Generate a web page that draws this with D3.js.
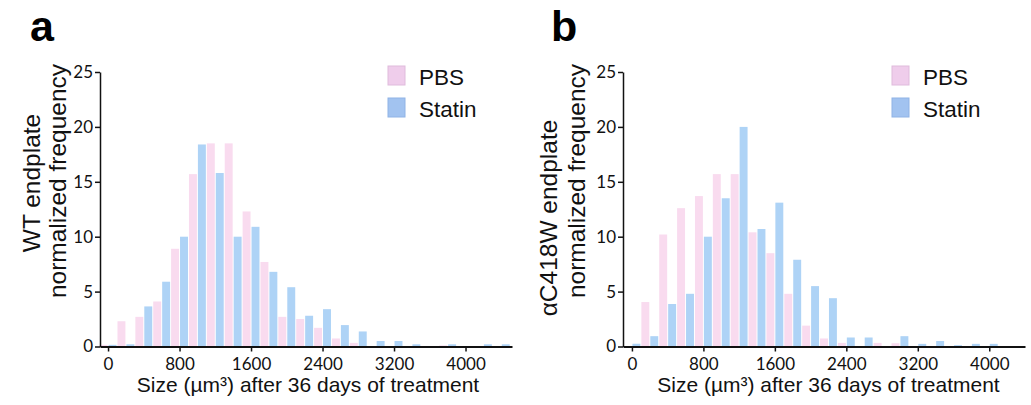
<!DOCTYPE html>
<html lang="en">
  <head>
    <meta charset="utf-8">
    <title>Endplate size histograms</title>
  </head>
  <style>
    body { margin: 0; background: #fff; }
    .axis path, .axis line { stroke: #111; stroke-width: 1.5px; }
    .axis text { font-family: Lato, 'Open Sans', sans-serif; font-size: 17px; fill: #111; }
    .ytitle, .xtitle, .legend text { font-family: 'Liberation Sans', Arial, sans-serif; fill: #111; }
    .panel-letter { font-family: 'Liberation Sans', Arial, sans-serif; font-weight: bold; font-size: 43px; fill: #000; }
  </style>
  <body>
    <div id="svg-area"></div>
    <script src="https://cdn.jsdelivr.net/npm/d3@7"></script>
    <script>
      const svg_width = 1031;
      const svg_height = 405;

      // bin centres (size, um^3), 200 wide
      const wtBins = [0,200,400,600,800,1000,1200,1400,1600,1800,2000,2200,2400,2600,2800,3000,3200,3400,3600,3800,4000,4200,4400];
      const wtPbs = [0.15,2.3,2.7,4.1,8.9,15.7,18.5,18.5,12.3,7.7,2.7,2.5,1.7,0.73,0.33,0,0,0,0,0.1,0,0,0];
      const wtStatin = [0.15,0.2,3.65,5.9,10.0,18.4,15.8,10.0,10.9,6.8,5.4,2.8,3.4,1.95,1.37,0.5,0.5,0.2,0,0.2,0,0.2,0.2];

      const mutBins = [0,200,400,600,800,1000,1200,1400,1600,1800,2000,2200,2400,2600,2800,3000,3200,3400,3600,3800,4000];
      const mutPbs = [0,4.05,10.2,12.6,13.7,15.7,15.7,10.4,8.5,4.8,1.9,0.73,0.33,0,0.33,0.3,0,0,0,0,0];
      const mutStatin = [0.25,0.94,3.87,4.8,10.0,13.5,20.0,10.7,13.1,7.9,5.5,4.4,0.82,0.82,0,0.94,0.24,0.5,0.12,0.24,0.24];

      const xTicks = [0,800,1600,2400,3200,4000];
      const yTicks = [0,5,10,15,20,25];
      const seriesNames = ['PBS','Statin'];
      const barColors = ['#f9dbef','#aed3f6'];
      const legendFill = ['#efcdeb','#a2c3f0'];
      const legendStroke = ['#dfbbdc','#90b3e6'];

      const svg = d3.select('#svg-area')
        .append('svg')
        .attr('width',svg_width)
        .attr('height',svg_height);

      function drawPanel(p) {
        const g = svg.append('g');
        const x_scale = d3.scaleLinear().domain(p.xDomain).range(p.xRange);
        const y_scale = d3.scaleLinear().domain([0,25]).range([346.5,72]);

        //bars: PBS left half of bin, Statin right half
        const rows = p.bins.map((b,i) => ({bin: b, pbs: p.pbs[i], statin: p.statin[i]}));
        g.append('g').selectAll('rect.pbs')
          .data(rows.filter(d => d.pbs > 0)).enter()
          .append('rect')
          .attr('x', d => x_scale(d.bin-100)+0.5)
          .attr('y', d => y_scale(d.pbs))
          .attr('width', d => x_scale(d.bin)-x_scale(d.bin-100)-1)
          .attr('height', d => y_scale(0)-y_scale(d.pbs))
          .attr('fill', barColors[0]);
        g.append('g').selectAll('rect.statin')
          .data(rows.filter(d => d.statin > 0)).enter()
          .append('rect')
          .attr('x', d => x_scale(d.bin)+0.5)
          .attr('y', d => y_scale(d.statin))
          .attr('width', d => x_scale(d.bin+100)-x_scale(d.bin)-1)
          .attr('height', d => y_scale(0)-y_scale(d.statin))
          .attr('fill', barColors[1]);

        //axis'
        g.append('g')
          .attr('class','axis')
          .attr('transform','translate(0,346.5)')
          .call(d3.axisBottom(x_scale).tickValues(xTicks).tickSize(5).tickSizeOuter(0).tickPadding(6).tickFormat(d3.format('d')))
          .call(a => a.select('.domain').style('stroke-width','2px'));
        g.append('g')
          .attr('class','axis')
          .attr('transform',`translate(${p.xRange[0]},0)`)
          .call(d3.axisLeft(y_scale).tickValues(yTicks).tickSize(5).tickSizeOuter(0).tickPadding(2));

        //titles
        p.yTitle.forEach((t,i) => {
          g.append('text')
            .attr('class','ytitle')
            .attr('transform',`translate(${p.yTitleX[i]},${p.yTitleY[i]}) rotate(-90)`)
            .attr('text-anchor','middle')
            .style('font-size','24.5px')
            .text(t);
        });
        g.append('text')
          .attr('class','xtitle')
          .attr('x',(x_scale(0)+p.xRange[1])/2 + p.xTitleShift)
          .attr('y',392)
          .attr('text-anchor','middle')
          .style('font-size','21px')
          .text('Size (µm³) after 36 days of treatment');

        g.append('text')
          .attr('class','panel-letter')
          .attr('x',p.letterX)
          .attr('y',41)
          .text(p.letter);

        //legend
        const lg = g.append('g').attr('class','legend')
          .attr('transform',`translate(${p.legendX},66)`);
        seriesNames.forEach((s,i) => {
          lg.append('rect')
            .attr('x',0).attr('y',i*32)
            .attr('width',17).attr('height',19)
            .attr('fill',legendFill[i])
            .attr('stroke',legendStroke[i]);
          lg.append('text')
            .attr('x',31).attr('y',i*32+19)
            .style('font-size','22.5px')
            .text(s);
        });
      }

      drawPanel({
        bins: wtBins, pbs: wtPbs, statin: wtStatin,
        xDomain: [-90,4520], xRange: [100,512],
        yTitle: ['WT endplate','normalized frequency'], yTitleX: [40,66], yTitleY: [183,181],
        xTitleShift: -2, letter: 'a', letterX: 30, legendX: 388
      });
      drawPanel({
        bins: mutBins, pbs: mutPbs, statin: mutStatin,
        xDomain: [-100,4400], xRange: [623,1025],
        yTitle: ['αC418W endplate','normalized frequency'], yTitleX: [557,585], yTitleY: [218,181],
        xTitleShift: 0, letter: 'b', letterX: 551, legendX: 892
      });
    </script>
  </body>
</html>
